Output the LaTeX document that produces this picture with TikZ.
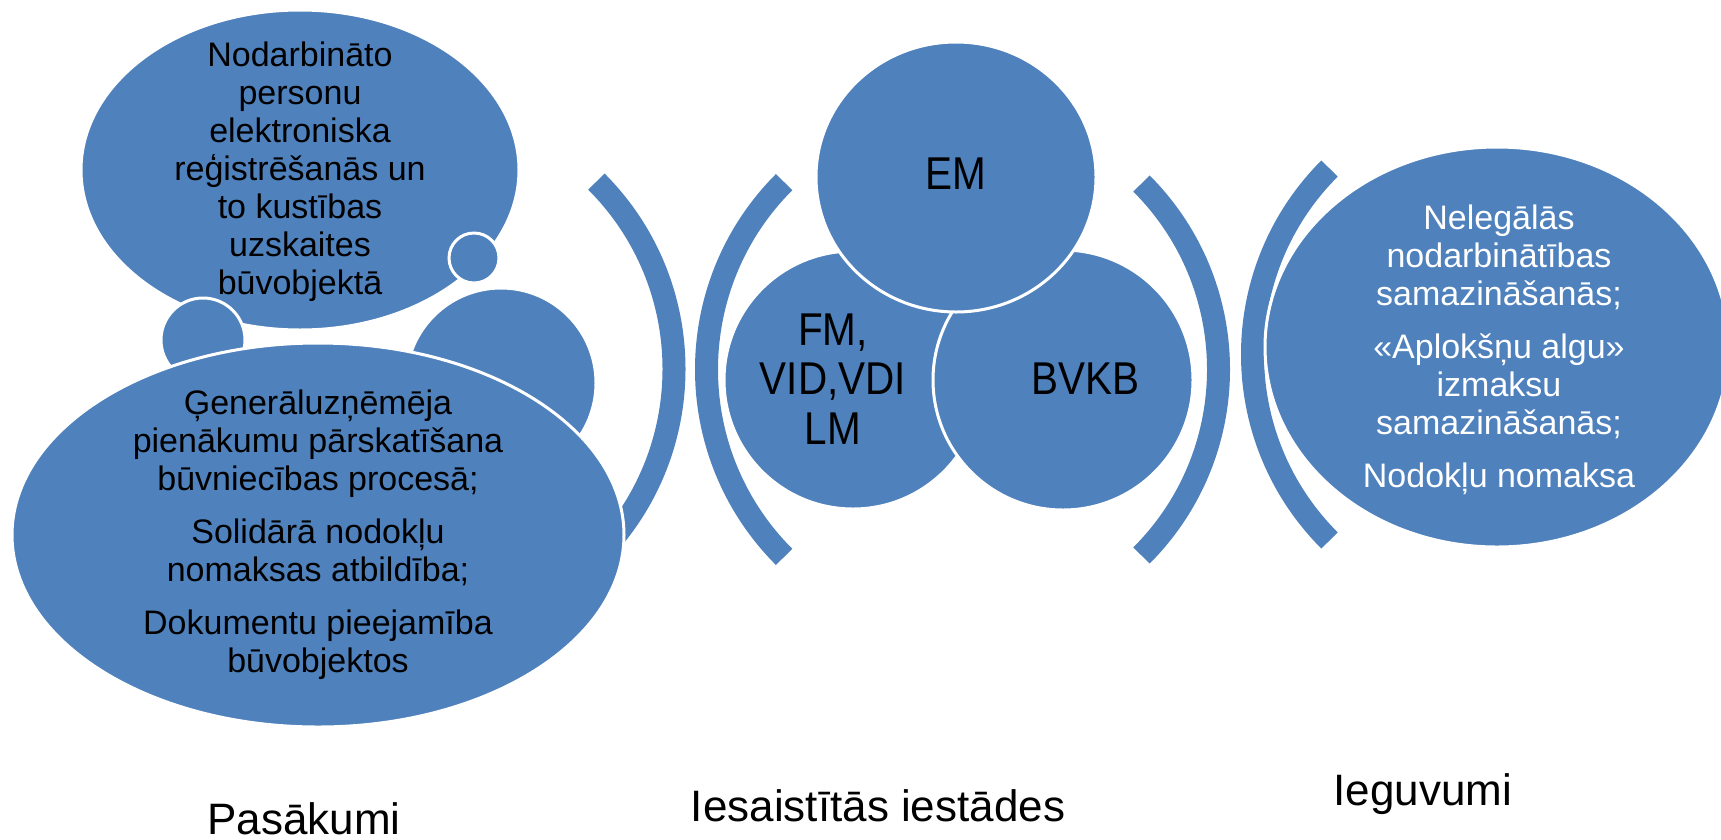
\documentclass[tikz,border=0pt]{standalone}
\usepackage{fontspec}
\setmainfont{Liberation Sans}
\newfontfamily\midfont[FakeStretch=0.88]{Liberation Sans}
\usetikzlibrary{shapes.geometric}
\definecolor{sablue}{HTML}{4F81BD}
\begin{document}
\begin{tikzpicture}[x=1pt,y=-1pt,
  blob/.style={fill=sablue, draw=white, line width=3pt, inner sep=0pt, outer sep=0pt},
  band/.style={draw=sablue, line width=23pt, line cap=butt},
  bodytext/.style={align=center, font=\fontsize{34}{38}\selectfont, inner sep=0pt},
  midtext/.style={align=center, font=\midfont\fontsize{46}{49.5}\selectfont, inner sep=0pt},
  labeltext/.style={font=\fontsize{44}{50}\selectfont, inner sep=0pt, anchor=base}]
\fill[white] (0,0) rectangle (1721,839);
\useasboundingbox (0,0) rectangle (1721,839);

% ---- left group: Pasakumi ----
\node[blob, ellipse, minimum width=438pt, minimum height=320pt] (topell) at (300,170) {};
\node[blob, circle, minimum size=50pt] (dotA) at (474,258) {};
\node[blob, circle, minimum size=84pt] (dotB) at (203,340) {};
\node[blob, circle, minimum size=190pt] (dotC) at (501,383) {};
\coordinate (c1) at (409,369);
\draw[band] (c1) ++(-45:265pt) arc[start angle=-45, end angle=45, radius=265pt];
\node[blob, ellipse, minimum width=612pt, minimum height=384pt] (botell) at (318,535) {};

\node[bodytext] (t1) at (300,172) {Nodarbināto\\personu\\elektroniska\\reģistrēšanās un\\to kustības\\uzskaites\\būvobjektā};
\node[bodytext] (t2) at (318,535) {Ģenerāluzņēmēja\\pienākumu pārskatīšana\\būvniecības procesā;\\[15pt]Solidārā nodokļu\\nomaksas atbildība;\\[15pt]Dokumentu pieejamība\\būvobjektos};

% ---- middle group: Iesaistitas iestades ----
\coordinate (c2) at (971.5,369.5);
\draw[band] (c2) ++(135:265pt) arc[start angle=135, end angle=225, radius=265pt];
\node[blob, circle, minimum size=258pt] (fm) at (853,380) {};
\node[blob, circle, minimum size=260pt] (bvkb) at (1063,380) {};
\node[blob, ellipse, minimum width=280pt, minimum height=270pt] (em) at (956,177) {};
\coordinate (c3) at (955.5,369.5);
\draw[band] (c3) ++(-45:263pt) arc[start angle=-45, end angle=45, radius=263pt];

\node[midtext, anchor=base] (tem) at (956,189) {EM};
\node[midtext] (tfm) at (833,379) {FM,\\VID,VDI\\LM};
\node[midtext, anchor=base] (tbv) at (1085,394) {BVKB};

% ---- right group: Ieguvumi ----
\coordinate (c4) at (1515.5,354.5);
\draw[band] (c4) ++(135:263pt) arc[start angle=135, end angle=225, radius=263pt];
\node[blob, ellipse, minimum width=464pt, minimum height=400pt] (rell) at (1497,347) {};
\node[bodytext, text=white] (t3) at (1499,350) {Nelegālās\\nodarbinātības\\samazināšanās;\\[15pt]«Aplokšņu algu»\\izmaksu\\samazināšanās;\\[15pt]Nodokļu nomaksa};

% ---- captions ----
\node[labeltext] (l1) at (304,834) {Pasākumi};
\node[labeltext] (l2) at (878,821) {Iesaistītās iestādes};
\node[labeltext] (l3) at (1423,805) {Ieguvumi};
\end{tikzpicture}
\end{document}
